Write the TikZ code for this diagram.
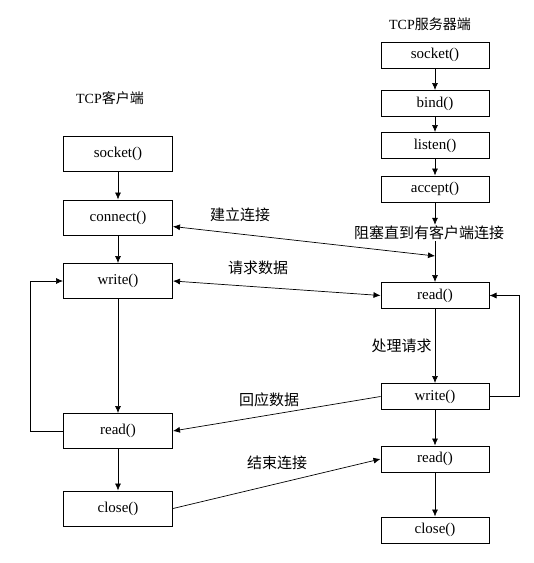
\documentclass[tikz,border=0pt]{standalone}
\usepackage{fontspec}
\setmainfont{Liberation Serif}
\newfontfamily\cjk{Noto Sans CJK SC}
\usetikzlibrary{arrows.meta}

\begin{document}
\begin{tikzpicture}[x=1pt,y=-1pt,
  box/.style={draw,line width=1pt,minimum width=109pt,minimum height=35pt,inner sep=0pt,font=\fontsize{15}{18}\selectfont},
  sbox/.style={box,minimum width=108pt,minimum height=26pt},
  note/.style={font=\cjk\fontsize{15}{18}\selectfont,inner sep=1pt},
  title/.style={font=\fontsize{14}{17}\selectfont},
  flow/.style={-{Latex[length=7pt,width=6pt]},line width=0.7pt},
  duplex/.style={{Latex[length=7pt,width=6pt]}-{Latex[length=7pt,width=6pt]},line width=0.7pt}]
\useasboundingbox[fill=white] (0,0) rectangle (534,563);

\node [title] (CTitle) at (110,98) {TCP{\cjk 客户端}};
\node [box] (CSocket) at (118,153.5) {socket()};
\node [box] (CConnect) at (118,217.5) {connect()};
\node [box] (CWrite) at (118,281) {write()};
\node [box] (CRead) at (118,431) {read()};
\node [box] (CClose) at (118,508.5) {close()};

\node [title] (STitle) at (430,24) {TCP{\cjk 服务器端}};
\node [sbox] (SSocket) at (435,55) {socket()};
\node [sbox] (SBind) at (435,103.5) {bind()};
\node [sbox] (SListen) at (435,145.5) {listen()};
\node [sbox] (SAccept) at (435,189) {accept()};
\node [note] (SBlock) at (429,233) {阻塞直到有客户端连接};
\node [sbox] (SRead) at (435,295.5) {read()};
\node [sbox] (SWrite) at (435,396.5) {write()};
\node [sbox] (SRead2) at (435,459) {read()};
\node [sbox] (SClose) at (435,530) {close()};

\coordinate (SWait) at (435,256);

\draw [flow] (CSocket) -- (CConnect);
\draw [flow] (CConnect) -- (CWrite);
\draw [flow] (CWrite) -- (CRead);
\draw [flow] (CRead) -- (CClose);
\draw [flow] (CRead.west) -- ++(-33,0) |- (CWrite.west);

\draw [flow] (SSocket) -- (SBind);
\draw [flow] (SBind) -- (SListen);
\draw [flow] (SListen) -- (SAccept);
\draw [flow] (SAccept.south) -- (SAccept.south |- SBlock.north);
\draw [flow] (SRead.north |- SBlock.south) -- (SRead.north);
\draw [flow] (SRead) -- node [note,left=2pt] (SWork) {处理请求} (SWrite);
\draw [flow] (SWrite) -- (SRead2);
\draw [flow] (SRead2) -- (SClose);
\draw [flow] (SWrite.east) -- ++(30,0) |- (SRead.east);

% messages between the two sides
\draw [duplex] ([yshift=-9pt]CConnect.east) -- (SWait);
\draw [duplex] (CWrite.east) -- (SRead.west);
\draw [flow] (SWrite.west) -- (CRead.east);
\draw [flow] (CClose.east) -- (SRead2.west);
\node [note] (MConnect) at (240,215) {建立连接};
\node [note] (MRequest) at (258,268) {请求数据};
\node [note] (MReply) at (269,400) {回应数据};
\node [note] (MClose) at (277,463) {结束连接};

\end{tikzpicture}
\end{document}
